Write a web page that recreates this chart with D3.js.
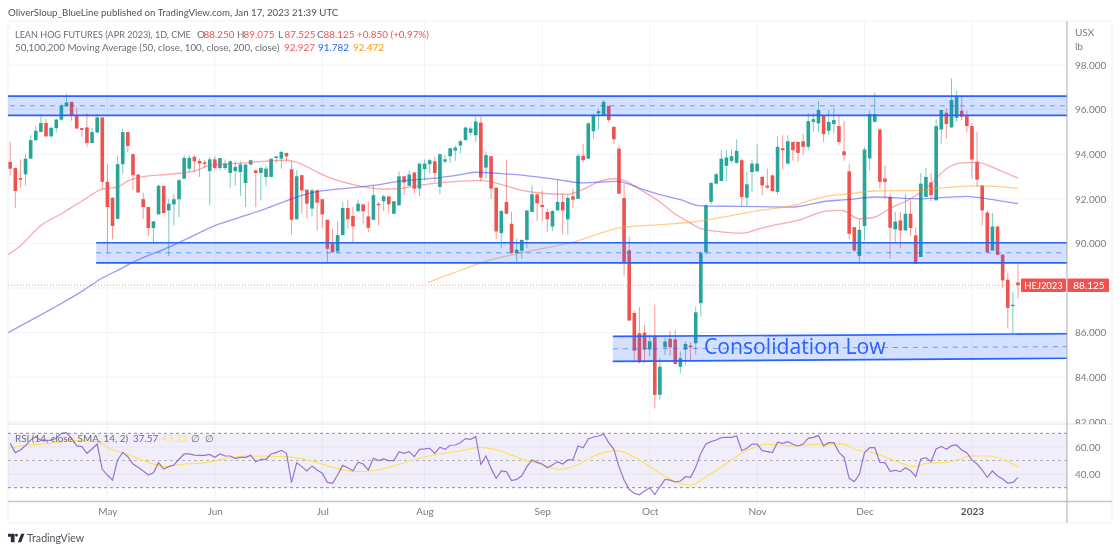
<!DOCTYPE html>
<html>
<head>
<meta charset="utf-8">
<script src="https://d3js.org/d3.v7.min.js"></script>
<style>
html, body { margin: 0; padding: 0; background: #fff; }
svg { display: block; filter: blur(0.35px); }
text { font-family: Lato, sans-serif; }
</style>
</head>
<body>
<div id="chart"></div>
<script>
// daily candles, one row = ten sessions
var opens = [
93.65,93.38,92.93,93.1,93.8,94.63,95.0,95.4,94.8,95.17,
95.55,96.14,96.35,95.71,95.17,95.2,94.5,94.97,95.65,92.76,
92.05,91.1,93.55,94.99,94.0,93.09,91.98,91.63,90.69,91.3,
92.58,91.48,91.75,91.98,92.9,93.35,93.88,93.7,93.64,93.24,
93.77,93.38,93.38,93.16,93.24,93.2,92.71,93.54,93.28,93.16,
92.98,92.98,93.83,93.8,94.06,93.33,91.08,93.06,92.41,91.56,
92.38,91.98,91.06,90.0,89.64,90.37,91.59,91.23,91.44,91.75,
91.21,91.06,91.78,91.89,92.11,91.33,91.71,93.01,92.58,93.18,
92.46,93.33,93.55,93.68,92.53,93.67,93.91,94.16,94.39,94.63,
94.96,94.85,95.42,93.4,93.91,92.5,90.46,91.86,90.88,89.57,
89.67,90.16,91.41,92.2,91.72,91.41,90.76,91.48,91.86,91.08,
92.11,92.0,93.93,93.8,95.03,95.83,95.72,96.17,95.23,94.25,
92.04,89.69,86.88,85.97,86.0,85.24,85.87,83.21,85.34,85.72,
85.7,84.47,85.24,85.42,85.52,87.32,89.6,91.86,92.68,92.8,
93.48,93.7,93.61,93.73,92.05,93.2,93.23,92.98,92.59,93.05,
92.31,94.27,93.58,94.55,94.55,94.58,94.33,95.45,95.38,95.71,
95.05,95.35,95.26,94.13,93.23,90.73,89.43,90.78,93.81,95.45,
95.11,92.91,92.08,90.63,91.03,90.58,91.33,90.36,89.39,92.08,
92.73,91.93,95.11,95.86,95.2,95.63,95.95,95.71,95.26,93.66,
92.6,91.38,89.68,90.76,89.5,88.37,87.2,88.25];

var highs = [
94.55,93.4,93.77,94.0,94.85,95.25,95.8,95.6,95.25,95.6,
96.28,96.73,96.35,96.1,95.17,95.83,95.18,95.8,95.65,93.55,
92.05,93.91,95.14,94.99,94.0,93.09,92.28,91.63,90.99,92.64,
92.58,92.0,92.2,92.9,93.95,93.95,93.95,93.8,93.73,93.88,
93.92,93.83,93.76,93.73,93.68,93.68,93.54,93.76,93.28,93.46,
93.5,93.8,93.9,94.15,94.06,93.7,93.28,93.06,92.41,92.46,
92.41,91.98,91.06,90.66,90.99,91.86,91.96,91.63,91.96,91.75,
91.86,92.6,91.86,92.19,92.11,91.89,93.23,93.01,93.28,93.18,
93.58,93.76,93.8,93.88,94.03,93.95,94.27,94.4,94.66,95.2,
95.23,95.68,95.68,94.1,93.91,92.5,91.5,93.76,91.41,90.21,
90.16,91.48,92.6,92.2,92.38,91.56,91.5,92.86,92.23,92.2,
92.46,94.03,94.45,95.45,95.83,96.05,96.43,96.17,95.23,94.4,
92.68,90.31,86.99,87.14,86.34,85.94,87.26,84.86,85.75,86.06,
86.13,85.15,85.6,85.57,87.17,89.64,91.78,92.76,93.16,94.18,
94.18,94.22,94.66,93.8,93.23,93.76,94.45,93.05,93.36,93.1,
94.8,94.85,94.85,94.55,94.55,94.93,95.83,95.83,96.38,95.71,
95.98,96.08,95.75,95.5,93.55,90.73,91.1,94.3,95.95,96.76,
95.15,93.5,92.23,91.41,91.41,92.2,91.93,90.73,93.16,93.39,
93.16,95.56,95.98,96.08,97.4,96.83,96.55,95.95,95.41,95.0,
92.6,91.48,91.36,90.76,89.5,88.68,87.81,89.075];

var lows = [
93.05,91.6,92.5,92.6,93.8,94.6,95.0,94.78,94.75,94.96,
95.5,96.14,95.5,95.15,94.78,94.33,94.5,94.97,92.43,89.57,
90.18,91.1,93.13,94.1,92.38,92.28,91.1,90.33,89.99,91.3,
91.36,89.43,90.8,91.18,92.9,93.2,93.2,92.98,93.36,91.7,
93.28,93.28,93.28,92.49,92.6,92.13,91.63,93.5,91.63,91.93,
92.56,92.98,93.6,93.35,93.65,90.4,91.08,91.33,91.1,91.2,
90.58,90.7,89.16,89.6,89.53,90.37,90.66,90.06,91.44,90.85,
90.51,91.06,90.81,91.45,91.36,91.3,91.71,92.16,92.58,92.23,
92.11,92.83,93.13,92.76,92.2,93.6,93.6,93.7,94.03,94.63,
94.85,94.55,92.76,92.9,92.0,90.2,89.79,91.3,89.53,89.13,
89.31,89.79,91.41,91.0,91.0,90.51,90.55,91.48,90.4,90.4,
91.6,92.0,93.63,93.8,94.7,95.1,95.72,95.42,94.45,92.23,
88.56,86.54,84.77,84.62,84.62,84.94,82.6,82.97,85.0,84.97,
84.59,84.18,84.56,84.7,85.01,86.72,89.49,91.75,92.65,92.8,
92.8,93.58,93.58,91.66,91.66,92.31,93.23,92.16,92.46,92.3,
92.2,93.33,93.55,93.7,93.66,93.95,94.18,95.0,95.0,94.55,
94.85,94.93,94.4,93.7,90.18,89.6,89.08,90.13,93.28,95.45,
92.46,92.0,89.31,90.06,89.79,90.58,90.33,89.09,89.39,92.08,
91.9,91.93,94.48,94.7,95.2,95.45,95.53,95.0,92.9,92.53,
90.81,89.56,89.68,89.46,88.0,86.2,85.97,87.525];

var closes = [
93.35,92.35,92.86,93.8,94.63,95.05,95.4,94.8,95.18,95.55,
96.17,96.32,95.71,95.15,95.09,94.5,94.99,95.65,92.76,91.63,
90.78,93.55,94.99,94.37,93.06,92.28,91.63,90.69,90.99,92.58,
91.36,91.78,91.98,92.83,93.83,93.83,93.68,93.58,93.57,93.77,
93.38,93.83,93.58,93.68,93.43,93.54,93.54,93.73,93.16,93.38,
93.35,93.8,93.9,94.1,93.9,91.06,93.01,92.38,91.78,92.38,
91.83,91.3,89.76,89.6,90.37,91.59,91.08,90.76,91.78,91.44,
90.7,92.16,91.71,92.11,91.75,91.89,93.01,92.73,93.09,92.46,
93.58,93.58,93.73,93.16,94.0,93.77,94.27,94.3,94.58,95.2,
95.15,95.47,92.95,93.96,92.46,90.54,91.45,91.33,89.57,89.72,
90.16,91.48,92.2,91.8,91.63,91.08,91.45,91.86,91.48,92.04,
91.96,93.93,93.73,95.38,95.75,95.93,96.35,95.53,94.67,92.23,
89.16,86.54,85.19,84.67,85.24,85.61,83.21,84.47,85.6,85.34,
84.59,84.85,85.49,85.34,86.91,89.58,91.7,92.71,93.1,93.8,
93.85,93.91,94.15,92.08,92.65,93.58,93.58,92.6,92.5,92.35,
94.33,94.18,94.58,94.18,94.06,94.33,95.48,95.57,95.98,94.9,
95.45,95.53,94.55,93.95,90.43,89.68,90.61,94.21,95.8,95.8,
92.76,92.76,90.7,90.98,90.58,91.33,90.69,89.09,92.68,92.98,
92.16,95.26,95.98,95.35,96.43,96.58,95.68,95.26,93.76,92.86,
91.48,89.6,90.76,89.49,88.34,87.11,87.25,88.125];

// moving averages, read at the bends of each curve: session number, value
var ma50Sessions = [-0.4,2,6,10,14,18,21,23,25,31,36,39,45,50,54,57,60,63,67,73,76,81,89,92,96,100,103.5,109,112,115,118,120,123,127,129.5,133,135,139,143,146.5,150,154,159.5,162.5,166,168.5,172.5,176,180,183,186,189,193,197];
var ma50Values = [89.5,89.9,90.8,91.33,91.9,92.43,92.53,92.8,92.95,93.1,93.24,93.5,93.6,93.69,93.73,93.55,93.2,92.9,92.64,92.44,92.46,92.64,92.8,92.83,92.64,92.38,92.26,92.2,92.43,92.76,92.9,92.83,92.43,91.86,91.4,90.91,90.66,90.52,90.46,90.66,90.85,91.03,91.45,91.48,91.1,91.15,91.63,92.0,92.68,93.35,93.61,93.63,93.31,92.927];

var ma100Sessions = [-0.4,8,14,18,21,24,31,34.5,40,45,50,55,60.5,66.5,71,76,84,88,91,96,102,107,112,118.5,120.7,123.5,127,131,135,143,153,159.5,163.5,169,178,182,187,191,197];
var ma100Values = [86.0,87.05,87.85,88.45,88.79,89.16,89.83,90.2,90.8,91.18,91.56,92.0,92.34,92.49,92.6,92.78,92.95,93.08,93.19,93.13,93.01,92.86,92.71,92.78,92.68,92.43,92.19,91.96,91.68,91.66,91.63,91.89,91.96,92.08,92.0,92.05,92.11,92.0,91.782];

var ma200Sessions = [81.6,88.5,92.4,99,105.5,110,115,119,121.7,127,133.5,140,146.5,153,159.5,163,169,178,182,189,197];
var ma200Values = [88.25,88.83,89.16,89.53,89.83,90.06,90.43,90.7,90.76,90.84,90.96,91.21,91.48,91.7,92.11,92.2,92.35,92.38,92.49,92.58,92.472];

// RSI for every session
var rsiValues = [
62.6,55.8,57.7,61,65,67.5,64.6,64.8,65,66.3,
70,70.5,66.3,60.7,60.2,55.3,58.5,62.1,43.5,39.3,
35.6,50.4,56,52.8,47.4,45,42.3,39.3,41,48.4,
43.7,45.5,46.7,50.9,54.8,54.8,54,53.8,53.8,54.5,
52.3,54.8,53.3,53.3,51.6,52.3,52.3,53.8,49.1,50.9,
50.9,54.8,55.8,57.5,55.3,33.7,48.4,45.5,42.3,46,
43,40.6,33.9,33.2,39.3,46.4,44.7,42.5,48.7,47.4,
43,51.6,49.9,51.1,49.9,49.9,56.5,55.3,56.5,52.8,
58.2,58.5,59,55.3,59.7,58.2,61.2,61.4,63.1,66.1,
65.6,67.5,47.2,53.3,44.2,36.9,42.3,41.8,35.2,36.1,
38.8,45.5,50.4,48.6,47.4,44.7,46.7,49.1,47.4,50.4,
50.4,60.7,59.4,65.8,67.3,68,69.3,63.1,58.2,45.5,
35.6,28.8,25.8,24.8,27.5,30,25,30.7,36.1,35.6,
34.2,34.9,38.1,37.6,45,55.3,62.1,63.9,65.1,66.8,
67,67,68,57.2,59,62.1,62.1,57.2,56.5,55.8,
63.4,62.6,63.9,61.9,60.7,62.1,66.3,67,68.3,60.7,
63.1,63.1,56,52.3,36.9,34.4,39.8,55.8,59.4,59.4,
48.6,48.4,42,42.8,41.8,44.7,42.5,38.1,51.1,52.1,
49.1,58.5,60.4,58.2,60.9,61.4,57.7,55.8,50.4,47.4,
43,37.6,42.3,38.6,36.4,33.4,33.9,37.57];

var rsiMaSessions = [-0.4,3.3,7.8,12,16.9,20,22.8,26,30.6,33.8,38.4,42.3,46.9,53.7,58.6,63.1,67.4,71.6,76.2,79.4,84,87.9,91.8,95.7,99.6,103.5,107.4,110.7,114.6,118.5,123,127,130,133,136,139.3,141.9,145,147.8,153,157.6,162.8,165.4,168.6,172.5,176.8,179,183,188.2,191.4,194.7,197];
var rsiMaValues = [59,61.4,62.6,64.6,63.9,57.7,54.8,49.9,45.5,47.4,48.4,51.6,53.3,52.8,49.9,45,41.8,43,47.4,51.1,54.8,57,59.7,57.2,51.6,47.4,43.5,46.7,54,57.2,50.4,40.6,34.4,32,38,46,52.8,59,62.1,60.7,61.9,62.1,57.7,55.8,50.4,45.5,47.9,48.6,53.3,53.3,49.9,45.23];

// drawn zones: first session, then top, middle and bottom price at both ends
var zoneStarts = [-2, 16.8, 117.8];
var zoneTops = [[96.6, 96.6], [90.03, 90.03], [85.83, 85.95]];
var zoneMids = [[96.17, 96.17], [89.58, 89.58], [85.27, 85.37]];
var zoneBottoms = [[95.74, 95.74], [89.13, 89.13], [84.71, 84.85]];

var priceTicks = [98, 96, 94, 92, 90, 88, 86, 84, 82];
var rsiTicks = [60, 40];
var rsiBands = [70, 50, 30];
var monthSessions = [19, 40, 61, 81, 104, 125, 146, 167, 188];
var monthLabels = ["May", "Jun", "Jul", "Aug", "Sep", "Oct", "Nov", "Dec", "2023"];

var lastClose = 88.125;

var width = 1120, height = 552;
var paneLeft = 8, paneRight = 1067, paneTop = 21, paneBottom = 424;
var rsiBottom = 501.5, frameBottom = 523, frameRight = 1112;

var UP = "#26a69a", DOWN = "#ef5350", GRID = "#f0f3fa", TXT = "#787b86", LEGEND = "#6a6d78";

var svg = d3.select("#chart").append("svg")
    .attr("width", width)
    .attr("height", height);

var x = d3.scaleLinear().domain([0, 197]).range([10.2, 1018]);
var y = d3.scaleLinear().domain([98, 82]).range([65, 421.8]);
var yRsi = d3.scaleLinear().domain([70, 30]).range([433.3, 487.7]);

var defs = svg.append("defs");
defs.append("clipPath").attr("id", "pane").append("rect")
    .attr("x", paneLeft).attr("y", paneTop)
    .attr("width", paneRight - paneLeft).attr("height", paneBottom - paneTop);
defs.append("clipPath").attr("id", "priceAxis").append("rect")
    .attr("x", paneRight).attr("y", paneTop)
    .attr("width", frameRight - paneRight).attr("height", paneBottom - paneTop);

//frame and grid
var grid = svg.append("g").attr("stroke", GRID).attr("stroke-width", 1);
grid.selectAll(".hgrid").data(priceTicks).enter().append("line")
    .attr("x1", paneLeft).attr("x2", paneRight)
    .attr("y1", function(d){ return y(d); })
    .attr("y2", function(d){ return y(d); });
grid.selectAll(".vgrid").data(monthSessions).enter().append("line")
    .attr("x1", function(d){ return x(d); })
    .attr("x2", function(d){ return x(d); })
    .attr("y1", paneTop).attr("y2", rsiBottom);
grid.selectAll(".rsigrid").data(rsiTicks).enter().append("line")
    .attr("x1", paneLeft).attr("x2", paneRight)
    .attr("y1", function(d){ return yRsi(d); })
    .attr("y2", function(d){ return yRsi(d); });

svg.append("rect")
    .attr("x", paneLeft).attr("y", paneTop)
    .attr("width", frameRight - paneLeft).attr("height", frameBottom - paneTop)
    .attr("fill", "none").attr("stroke", "#f0f1f5");
svg.append("line")
    .attr("x1", paneLeft).attr("x2", frameRight)
    .attr("y1", paneBottom).attr("y2", paneBottom)
    .attr("stroke", "#e8eaf0").attr("stroke-width", 1.5);

//candles
var sessions = d3.range(closes.length);
var chartG = svg.append("g").attr("clip-path", "url(#pane)");

chartG.selectAll(".wick").data(sessions).enter().append("line")
    .attr("class", "wick")
    .attr("x1", function(d){ return x(d); })
    .attr("x2", function(d){ return x(d); })
    .attr("y1", function(d){ return y(highs[d]); })
    .attr("y2", function(d){ return y(lows[d]); })
    .attr("stroke", function(d){ return closes[d] >= opens[d] ? UP : DOWN; })
    .attr("stroke-opacity", 0.6)
    .attr("stroke-width", 1);

chartG.selectAll(".body").data(sessions).enter().append("rect")
    .attr("class", "body")
    .attr("x", function(d){ return x(d) - 1.8; })
    .attr("width", 3.6)
    .attr("y", function(d){ return y(Math.max(opens[d], closes[d])); })
    .attr("height", function(d){ return Math.max(1.4, Math.abs(y(opens[d]) - y(closes[d]))); })
    .attr("fill", function(d){ return closes[d] >= opens[d] ? UP : DOWN; });

//moving averages
var maLine = d3.line()
    .x(function(d){ return x(d[0]); })
    .y(function(d){ return y(d[1]); })
    .curve(d3.curveMonotoneX);

[[ma50Sessions, ma50Values, "#f7525f"],
 [ma100Sessions, ma100Values, "#3a3af0"],
 [ma200Sessions, ma200Values, "#ff9f1a"]].forEach(function(s){
    chartG.append("path")
        .datum(d3.zip(s[0], s[1]))
        .attr("d", maLine)
        .attr("fill", "none")
        .attr("stroke", s[2])
        .attr("stroke-opacity", 0.5)
        .attr("stroke-width", 1.3);
});

//last price line
chartG.append("line")
    .attr("x1", paneLeft).attr("x2", paneRight)
    .attr("y1", y(lastClose)).attr("y2", y(lastClose))
    .attr("stroke", DOWN).attr("stroke-opacity", 0.6)
    .attr("stroke-dasharray", "1 2");

//zones
var zoneEnd = x.invert(paneRight + 4);
zoneStarts.forEach(function(start, i){
    var left = x(start), right = x(zoneEnd);
    var top0 = y(zoneTops[i][0]), top1 = y(zoneTops[i][1]);
    var bot0 = y(zoneBottoms[i][0]), bot1 = y(zoneBottoms[i][1]);
    chartG.append("path")
        .attr("d", "M" + left + "," + top0 + "L" + right + "," + top1 + "L" + right + "," + bot1 + "L" + left + "," + bot0 + "Z")
        .attr("fill", "#2962ff").attr("fill-opacity", 0.2);
    [[zoneTops[i], 1.7, null, 1], [zoneBottoms[i], 1.7, null, 1], [zoneMids[i], 1, "5 5", 0.6]].forEach(function(l){
        chartG.append("line")
            .attr("x1", left).attr("x2", right)
            .attr("y1", y(l[0][0])).attr("y2", y(l[0][1]))
            .attr("stroke", "#2962ff")
            .attr("stroke-width", l[1])
            .attr("stroke-opacity", l[3])
            .attr("stroke-dasharray", l[2]);
    });
});

chartG.append("text")
    .attr("x", x(135.6))
    .attr("y", y(85.06))
    .attr("font-size", 21.2)
    .attr("fill", "#2962ff")
    .style("font-family", '"Open Sans", sans-serif')
    .text("Consolidation Low");

//rsi pane
var rsiG = svg.append("g");
rsiG.append("rect")
    .attr("x", paneLeft).attr("width", paneRight - paneLeft)
    .attr("y", yRsi(70)).attr("height", yRsi(30) - yRsi(70))
    .attr("fill", "#7e57c2").attr("fill-opacity", 0.1);
rsiBands.forEach(function(b){
    rsiG.append("line")
        .attr("x1", paneLeft).attr("x2", paneRight)
        .attr("y1", yRsi(b)).attr("y2", yRsi(b))
        .attr("stroke", "#787b86")
        .attr("stroke-opacity", b == 50 ? 0.5 : 0.85)
        .attr("stroke-dasharray", "3 3");
});

rsiG.append("path")
    .datum(d3.zip(rsiMaSessions, rsiMaValues))
    .attr("d", d3.line()
        .x(function(d){ return x(d[0]); })
        .y(function(d){ return yRsi(d[1]); })
        .curve(d3.curveMonotoneX))
    .attr("fill", "none")
    .attr("stroke", "#fde25f")
    .attr("stroke-width", 1.2);

rsiG.append("path")
    .datum(rsiValues)
    .attr("d", d3.line()
        .x(function(d, i){ return x(i); })
        .y(function(d){ return yRsi(d); }))
    .attr("fill", "none")
    .attr("stroke", "#7e57c2")
    .attr("stroke-opacity", 0.8)
    .attr("stroke-width", 1.2);

//axes
function styleAxis(g){
    g.select(".domain").remove();
    g.selectAll("line").remove();
    g.selectAll("text").attr("fill", TXT).attr("font-size", 10);
}

// the 88 label sits under the last price tag, so it is left out like in the picture
svg.append("g")
    .attr("clip-path", "url(#priceAxis)")
    .append("g")
    .attr("transform", "translate(" + paneRight + ",0)")
    .call(d3.axisRight(y)
        .tickValues(priceTicks.filter(function(d){ return d != 88; }))
        .tickSize(0).tickPadding(8)
        .tickFormat(function(d){ return d3.format(".3f")(d); }))
    .call(styleAxis);

svg.append("g")
    .attr("transform", "translate(" + paneRight + ",0)")
    .call(d3.axisRight(yRsi).tickValues(rsiTicks).tickSize(0).tickPadding(8)
        .tickFormat(function(d){ return d3.format(".2f")(d); }))
    .call(styleAxis);

svg.append("g")
    .attr("transform", "translate(0," + rsiBottom + ")")
    .call(d3.axisBottom(x).tickValues(monthSessions).tickSize(0).tickPadding(6)
        .tickFormat(function(d, i){ return monthLabels[i]; }))
    .call(styleAxis)
    .selectAll("text")
    .filter(function(d, i){ return monthLabels[i] == "2023"; })
    .attr("font-weight", 700)
    .attr("fill", "#50535e");

svg.append("line")
    .attr("x1", paneLeft).attr("x2", frameRight)
    .attr("y1", rsiBottom).attr("y2", rsiBottom)
    .attr("stroke", "#c3c5cc").attr("stroke-width", 1.5);
svg.append("line")
    .attr("x1", paneRight).attr("x2", paneRight)
    .attr("y1", paneTop).attr("y2", frameBottom)
    .attr("stroke", "#a9abb3").attr("stroke-width", 1);

svg.append("text").attr("x", 1075).attr("y", 36).attr("font-size", 10).attr("fill", TXT).text("USX");
svg.append("text").attr("x", 1075).attr("y", 50).attr("font-size", 10).attr("fill", TXT).text("lb");

//last price tags
var tagY = y(lastClose);
[[1021, 45, "HEJ2023", 1043.5, 9.4], [1067.5, 41.5, d3.format(".3f")(lastClose), 1089, 10]].forEach(function(t){
    svg.append("rect")
        .attr("x", t[0]).attr("width", t[1])
        .attr("y", tagY - 6.8).attr("height", 13.6)
        .attr("rx", 1).attr("fill", DOWN);
    svg.append("text")
        .attr("x", t[3]).attr("y", tagY + 3.6)
        .attr("text-anchor", "middle")
        .attr("font-size", t[4])
        .attr("fill", "#fff")
        .text(t[2]);
});

//texts on top
function label(px, py, str, color, size){
    svg.append("text")
        .attr("x", px).attr("y", py)
        .attr("font-size", size || 9.9)
        .attr("fill", color)
        .text(str);
}

label(8, 16, "OliverSloup_BlueLine published on TradingView.com, Jan 17, 2023 21:39 UTC", "#50535e", 9.7);

label(15, 37.5, "LEAN HOG FUTURES (APR 2023), 1D, CME", LEGEND, 9.05);
[[197, "O", "88.250"], [237, "H", "89.075"], [278, "L", "87.525"], [317, "C", "88.125"]].forEach(function(p){
    label(p[0], 37.5, p[1], LEGEND);
    label(p[0] + 6.5, 37.5, p[2], DOWN);
});
label(357, 37.5, "+0.850 (+0.97%)", DOWN);

label(15, 51, "50,100,200 Moving Average (50, close, 100, close, 200, close)", LEGEND, 9.8);
label(284, 51, "92.927", "#f7525f");
label(318, 51, "91.782", "#2962ff");
label(353, 51, "92.472", "#ff9800");

label(15, 441.5, "RSI (14, close, SMA, 14, 2)", LEGEND);
label(133, 441.5, "37.57", "#7e57c2");
label(162, 441.5, "45.23", "#fde25f");
label(191, 441.5, "∅", LEGEND);
label(205, 441.5, "∅", LEGEND);

//logo
svg.append("path")
    .attr("transform", "translate(8,531) scale(0.47)")
    .attr("d", "M14 6H0v6h6v12h8zM28 24h-7L28 6h7zM21 9a3 3 0 1 1-6 0 3 3 0 0 1 6 0z")
    .attr("fill", "#2a2e39");
label(27, 542, "TradingView", "#50535e", 10.6);
</script>
</body>
</html>
